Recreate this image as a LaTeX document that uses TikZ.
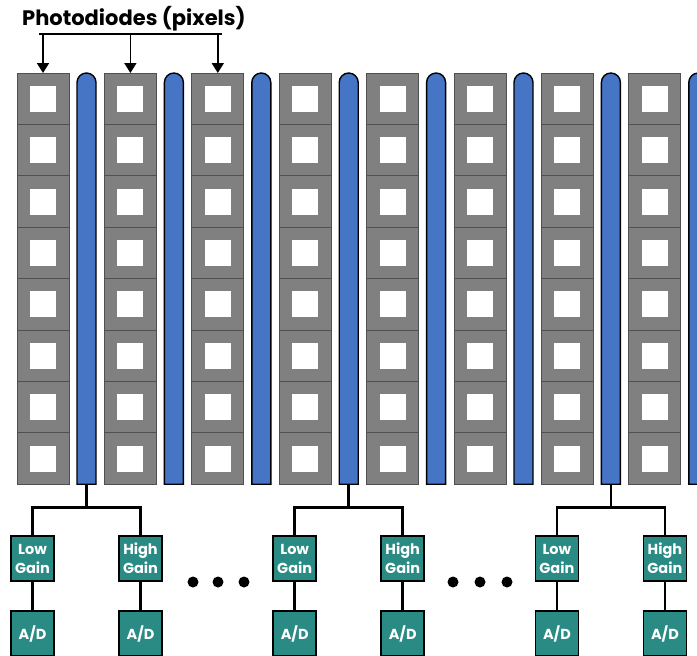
\documentclass[tikz,border=0pt]{standalone}
\usepackage{fontspec}
\setmainfont{Poppins}
\usepackage{tikz}
\usetikzlibrary{calc, positioning, arrows.meta}

\definecolor{pixgray}{HTML}{808080}
\definecolor{pixedge}{HTML}{505050}
\definecolor{busblue}{HTML}{4575C4}
\definecolor{ampteal}{HTML}{2A8A84}

\tikzset{
	cell/.style={fill=pixgray, draw=pixedge, line width=1pt},
	bus/.style={fill=busblue, draw=black, line width=1.4pt},
	wire/.style={draw=black, line width=2.6pt},
	lead/.style={draw=black, line width=1.8pt},
	gainbox/.style={draw=black, line width=1.6pt, fill=ampteal, text=white,
		font=\bfseries\fontsize{14.5}{19}\selectfont, align=center,
		minimum width=43pt, minimum height=45pt, inner sep=0pt}
}

\begin{document}
\begin{tikzpicture}[x=1pt, y=-1pt]
			\def\colW{52}
			\def\pitch{87.4}
			\def\cellH{51.4}
			\def\topY{73}
			\def\botY{484.2}
			\def\barW{19}

			\useasboundingbox (0,0) rectangle (697,656);
			\clip (0,0) rectangle (697,656);

			\node[anchor=base west, inner sep=0pt, font=\bfseries\fontsize{21}{22}\selectfont] (label) at (22,25) {Photodiodes (pixels)};

			\begin{scope}
				\foreach \i in {0,...,7}
				{
					\pgfmathsetmacro{\xL}{17+\i*\pitch}
					\foreach \j in {0,...,7}
					{
						\pgfmathsetmacro{\yT}{\topY+\j*\cellH}
						\draw[cell] (\xL,\yT) rectangle ++(\colW,\cellH);
						\fill[white] (\xL+13,\yT+12.7) rectangle ++(26,26);
					}
					\coordinate (top\i) at (\xL+\colW/2,\topY);
					\pgfmathsetmacro{\bL}{\xL+60}
					\draw[bus] (\bL,\botY) -- (\bL,\topY+\barW/2) arc[start angle=180, end angle=360, radius=\barW/2] -- (\bL+\barW,\botY) -- cycle;
					\coordinate (bar\i) at (\bL+\barW/2,\botY);
				}
			\end{scope}

			\begin{scope}
				\coordinate (brace) at (0,34);
				\draw[lead] ($(top0 |- brace)+(-4,0)$) -- ($(top2 |- brace)+(4,0)$);
				\foreach \i in {0,1,2}
				{
					\draw[lead, -{Triangle[width=12pt, length=10pt]}] (top\i |- brace) -- (top\i);
				}
			\end{scope}

			\begin{scope}
				\foreach \g/\b in {1/0, 2/3, 3/6}
				{
					\coordinate (split\g) at ($(bar\b)+(0,23)$);
					\node[gainbox] (low\g) at ($(bar\b)+(-54,74.3)$) {Low\\Gain};
					\node[gainbox] (high\g) at ($(bar\b)+(54,74.3)$) {High\\Gain};
					\node[gainbox, below=28.5pt of low\g] (adl\g) {A/D};
					\node[gainbox, below=28.5pt of high\g] (adh\g) {A/D};
					\draw[wire] (bar\b) -- (split\g);
					\draw[wire] (low\g.north) |- (split\g) -| (high\g.north);
					\draw[wire] (low\g.south) -- (adl\g.north);
					\draw[wire] (high\g.south) -- (adh\g.north);
				}
			\end{scope}

			\begin{scope}
				\foreach \x in {193,218,244,453,480,507}
				{
					\fill (\x,582) circle (5.5);
				}
			\end{scope}
		\end{tikzpicture}
\end{document}
